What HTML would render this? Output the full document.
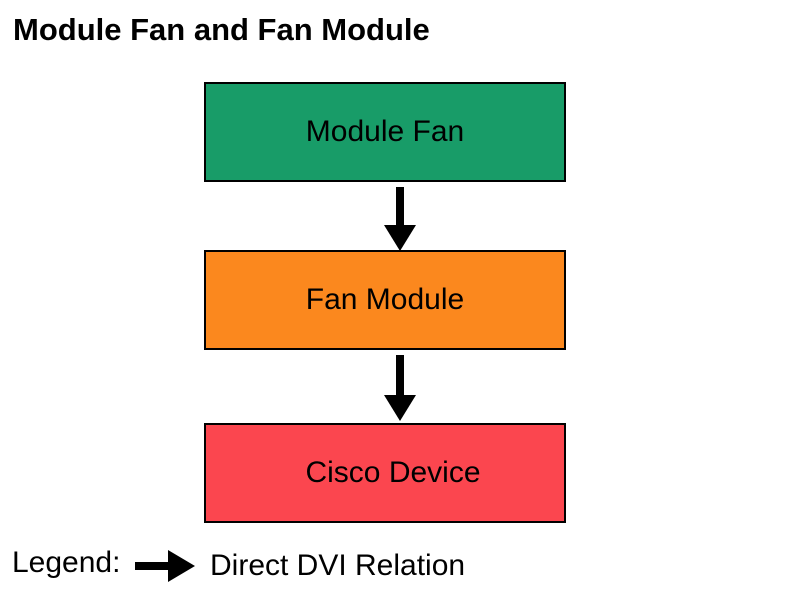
<!DOCTYPE html>
<html><head><style>
body{margin:0;width:800px;height:600px;background:#fff;position:relative;overflow:hidden;font-family:"Liberation Sans",sans-serif}
.t{position:absolute;left:13px;top:12px;font-size:31px;font-weight:bold;color:#000}
.b{position:absolute;left:204px;width:358px;border:2px solid #000;display:flex;align-items:center;justify-content:center;font-size:30px;color:#000}
.l{position:absolute;font-size:30px;color:#000}
</style></head><body>
<div class="t">Module Fan and Fan Module</div>
<div class="b" style="top:82px;height:96px;background:#189c68">Module Fan</div>
<div class="b" style="top:250px;height:96px;background:#fb881e">Fan Module</div>
<div class="b" style="top:423px;height:96px;background:#fb464f;padding-left:16px;box-sizing:content-box;width:342px">Cisco Device</div>
<svg width="800" height="600" style="position:absolute;left:0;top:0">
<rect x="396" y="187" width="8" height="40" fill="#000"/>
<polygon points="384,225 416,225 400,251" fill="#000"/>
<rect x="396" y="355" width="8" height="42" fill="#000"/>
<polygon points="384,395 416,395 400,421" fill="#000"/>
<rect x="135" y="562" width="36" height="8" fill="#000"/>
<polygon points="168,550 195,566 168,582" fill="#000"/>
</svg>
<div class="l" style="left:12px;top:546px">Legend:</div>
<div class="l" style="left:210px;top:549px">Direct DVI Relation</div>
</body></html>
